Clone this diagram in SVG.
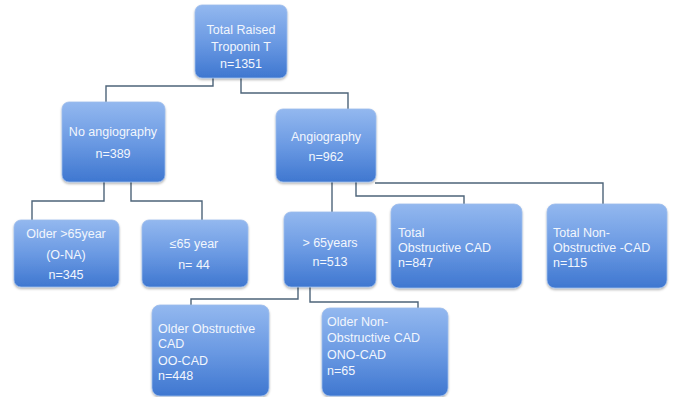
<svg xmlns="http://www.w3.org/2000/svg" width="673" height="397" viewBox="0 0 673 397">
<defs>
<linearGradient id="g" x1="0" y1="0" x2="0" y2="1">
<stop offset="0" stop-color="#93b8ef"/>
<stop offset="0.5" stop-color="#6b9ae3"/>
<stop offset="1" stop-color="#3f77d0"/>
</linearGradient>
<filter id="sh" x="-10%" y="-10%" width="120%" height="130%">
<feDropShadow dx="0" dy="1.5" stdDeviation="1.2" flood-color="#000" flood-opacity="0.3"/>
</filter>
</defs>
<style>
.box{fill:url(#g);stroke:#9dbcec;stroke-width:0.8;filter:url(#sh)}
.t{font-family:"Liberation Sans",Arial,sans-serif;font-size:12.5px;fill:#f2f6fd}
.c{text-anchor:middle}
.ln{fill:none;stroke:#4d6479;stroke-width:1.4}
</style>
<rect width="673" height="397" fill="#ffffff"/>
<g id="connectors">
<polyline class="ln" points="213,78 213,86 106,86 106,102"/>
<polyline class="ln" points="241,78 241,93 348,93 348,109"/>
<polyline class="ln" points="104,182 104,201 32,201 32,220"/>
<polyline class="ln" points="131,182 131,201 202,201 202,220"/>
<polyline class="ln" points="332,182 332,212"/>
<polyline class="ln" points="356,182 356,196 464,196 464,206"/>
<polyline class="ln" points="375,183 603,183 603,206"/>
<polyline class="ln" points="298,287 298,299 191,299 191,305"/>
<polyline class="ln" points="310,287 310,302 418,302 418,308"/>
</g>
<g id="n-total">
<rect class="box" x="195" y="5" width="92" height="73" rx="7"/>
<text class="t c" x="241" y="34">Total Raised</text>
<text class="t c" x="241" y="51">Troponin T</text>
<text class="t c" x="241" y="68">n=1351</text>
</g>
<g id="n-noangio">
<rect class="box" x="62" y="102" width="103" height="80" rx="7"/>
<text class="t c" x="113" y="136">No angiography</text>
<text class="t c" x="113" y="158">n=389</text>
</g>
<g id="n-angio">
<rect class="box" x="276" y="109" width="100" height="73" rx="7"/>
<text class="t c" x="326" y="141">Angiography</text>
<text class="t c" x="326" y="161">n=962</text>
</g>
<g id="n-older-na">
<rect class="box" x="14" y="220" width="105" height="67" rx="7"/>
<text class="t c" x="66" y="238">Older &gt;65year</text>
<text class="t c" x="66" y="259">(O-NA)</text>
<text class="t c" x="66" y="279">n=345</text>
</g>
<g id="n-le65">
<rect class="box" x="142" y="220" width="106" height="67" rx="7"/>
<text class="t c" x="194" y="248">≤65 year</text>
<text class="t c" x="194" y="269">n= 44</text>
</g>
<g id="n-gt65">
<rect class="box" x="284" y="212" width="92" height="75" rx="7"/>
<text class="t c" x="330" y="247">&gt; 65years</text>
<text class="t c" x="330" y="266">n=513</text>
</g>
<g id="n-tocad">
<rect class="box" x="391" y="204" width="131" height="84" rx="8"/>
<text class="t" x="398" y="237">Total</text>
<text class="t" x="398" y="252">Obstructive CAD</text>
<text class="t" x="398" y="267">n=847</text>
</g>
<g id="n-tnocad">
<rect class="box" x="547" y="204" width="120" height="84" rx="8"/>
<text class="t" x="553" y="237">Total Non-</text>
<text class="t" x="553" y="252">Obstructive -CAD</text>
<text class="t" x="553" y="267">n=115</text>
</g>
<g id="n-oocad">
<rect class="box" x="152" y="305" width="117" height="91" rx="8"/>
<text class="t" x="158" y="333">Older Obstructive</text>
<text class="t" x="158" y="348">CAD</text>
<text class="t" x="158" y="365">OO-CAD</text>
<text class="t" x="158" y="380">n=448</text>
</g>
<g id="n-onocad">
<rect class="box" x="322" y="308" width="126" height="88" rx="8"/>
<text class="t" x="327" y="326">Older Non-</text>
<text class="t" x="327" y="342">Obstructive CAD</text>
<text class="t" x="327" y="359">ONO-CAD</text>
<text class="t" x="327" y="375">n=65</text>
</g>
</svg>
